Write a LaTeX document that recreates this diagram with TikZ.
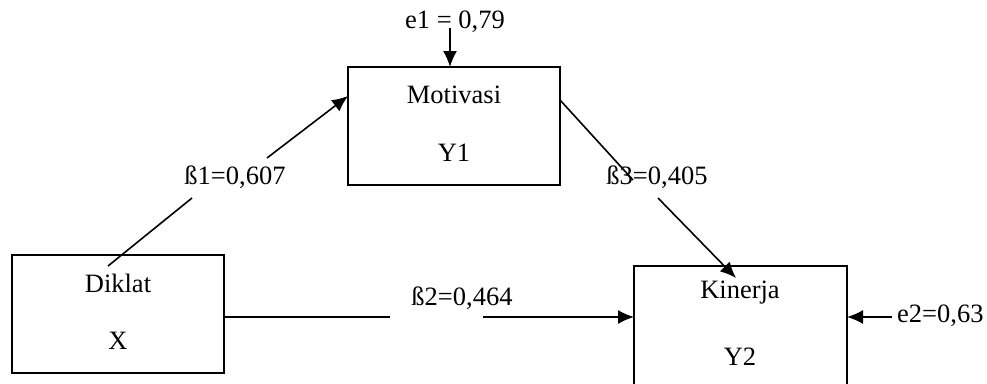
\documentclass[tikz,border=0pt]{standalone}
\usepackage{fontspec}
\setmainfont{Liberation Serif}
\usetikzlibrary{arrows.meta}
\begin{document}
\begin{tikzpicture}[x=1pt,y=-1pt,
  box/.style={draw,line width=1.6pt,inner sep=0pt},
  lbl/.style={inner sep=0pt,font=\fontsize{26.5}{30}\selectfont},
  conn/.style={line width=1.6pt},
  arr/.style={line width=1.6pt,-{Latex[length=16pt,width=14pt]}}]
\useasboundingbox (0,0) rectangle (987,383);
\fill[white] (0,0) rectangle (987,383);
% boxes
\draw[box] (348,67) rectangle (560,185);
\draw[box] (12,255) rectangle (224,373);
\draw[box] (634,266) rectangle (847,400);
% box texts
\node[lbl] (mot) at (454,95) {Motivasi};
\node[lbl] (y1) at (454,153) {Y1};
\node[lbl] (dik) at (118,283) {Diklat};
\node[lbl] (x) at (118,341) {X};
\node[lbl] (kin) at (740,293) {Kinerja};
\node[lbl] (y2) at (740,357) {Y2};
% error terms
\node[lbl] (e1) at (455,22) {e1 = 0,79};
\coordinate (e1s) at (450,28);
\coordinate (e1t) at (450,67);
\draw[arr] (e1s) -- (e1t);
\node[lbl,anchor=west] (e2) at (897,316) {e2=0,63};
\coordinate (e2s) at (892,317);
\coordinate (e2t) at (847,317);
\draw[arr] (e2s) -- (e2t);
% beta1
\coordinate (b1a) at (108,266);
\coordinate (b1b) at (192,198);
\coordinate (b1c) at (267,158);
\coordinate (b1t) at (348,96);
\node[lbl] (b1) at (235,177) {ß1=0,607};
\draw[conn] (b1a) -- (b1b);
\draw[arr] (b1c) -- (b1t);
% beta3
\coordinate (b3a) at (560,100);
\coordinate (b3b) at (633,180);
\coordinate (b3c) at (658,198);
\coordinate (b3t) at (736,278);
\draw[conn] (b3a) -- (b3b);
\node[lbl] (b3) at (657,177) {ß3=0,405};
\draw[arr] (b3c) -- (b3t);
% beta2
\coordinate (b2a) at (224,317);
\coordinate (b2b) at (390,317);
\coordinate (b2c) at (483,317);
\coordinate (b2t) at (634,317);
\node[lbl] (b2) at (462,298) {ß2=0,464};
\draw[conn] (b2a) -- (b2b);
\draw[arr] (b2c) -- (b2t);
\end{tikzpicture}
\end{document}
